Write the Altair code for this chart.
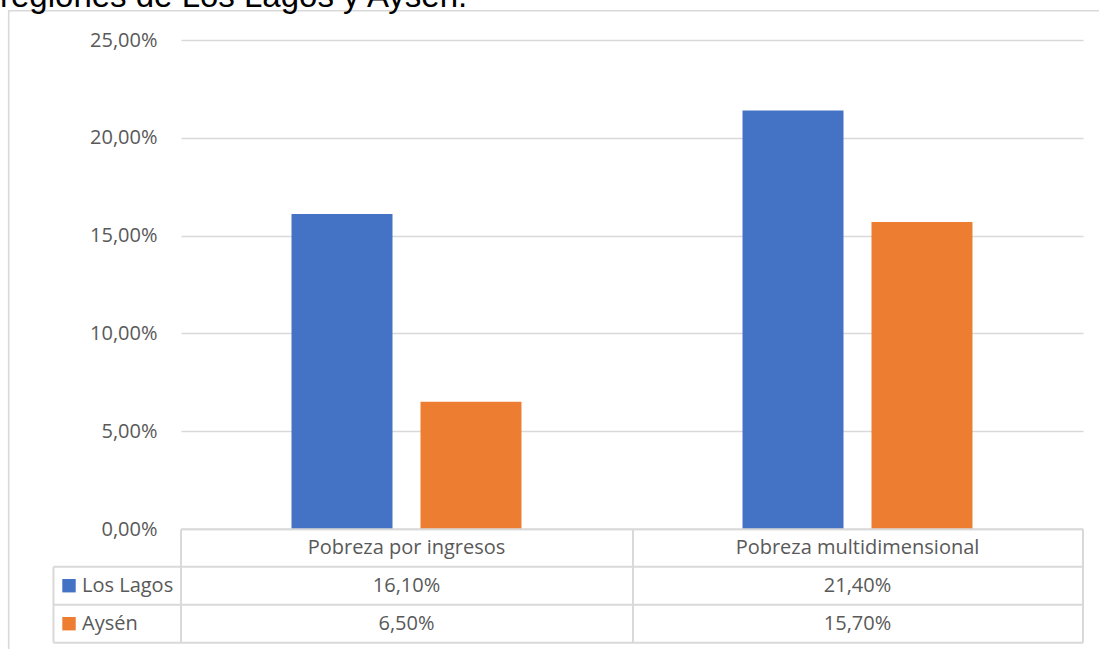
import altair as alt
import pandas as pd

# ---- data ----
categories = ["Pobreza por ingresos", "Pobreza multidimensional"]
series = ["Los Lagos", "Aysén"]
los_lagos = [0.161, 0.214]
aysen = [0.065, 0.157]
colors = ["#4472C4", "#ED7D31"]
y_ticks = [0, 0.05, 0.10, 0.15, 0.20, 0.25]
caption = "regiones de Los Lagos y Aysén."

def fmt(v):
    return f"{v * 100:.2f}%".replace(".", ",")

rows = []
for s, vals in zip(series, [los_lagos, aysen]):
    for c, v in zip(categories, vals):
        rows.append({"category": c, "series": s, "value": v, "label": fmt(v)})
df = pd.DataFrame(rows)
cat_df = pd.DataFrame({"category": categories})
ser_df = pd.DataFrame({"series": series})

FONT = "Open Sans"
GRAY = "#595959"
LINE = "#d9d9d9"

x_scale = alt.Scale(domain=categories, paddingInner=0, paddingOuter=0)
color_scale = alt.Scale(domain=series, range=colors)

bars = alt.Chart(df).mark_bar().encode(
    x=alt.X("category:N", sort=categories, scale=x_scale, axis=None),
    xOffset=alt.XOffset("series:N", sort=series,
                        scale=alt.Scale(domain=series, paddingInner=0.217, paddingOuter=0.857)),
    y=alt.Y("value:Q", scale=alt.Scale(domain=[0, 0.25]),
            axis=alt.Axis(values=y_ticks, title=None, domain=False, ticks=False,
                          grid=True, gridColor=LINE, gridWidth=1.3,
                          labelFont=FONT, labelFontSize=20, labelColor=GRAY,
                          labelPadding=24,
                          labelExpr="replace(format(datum.value, '.2%'), '.', ',')")),
    color=alt.Color("series:N", scale=color_scale, legend=None),
)

def one():
    return alt.Data(values=[{}])

def hline(x1, x2, y, w=2):
    return alt.Chart(one()).mark_rule(color=LINE, strokeWidth=w).encode(
        x=alt.value(x1), x2=alt.value(x2), y=alt.value(y))

def vline(x, y1, y2, w=2):
    return alt.Chart(one()).mark_rule(color=LINE, strokeWidth=w).encode(
        x=alt.value(x), y=alt.value(y1), y2=alt.value(y2))

# table geometry (plot-relative pixels)
top = 489.3
r1 = 526.7
r2 = 564.7
r3 = 602.7
leg_left = -127.5
mid_x = 452
right_x = 902

lines = [
    hline(0, right_x, top),
    hline(leg_left, right_x, r1),
    hline(leg_left, right_x, r2),
    hline(leg_left, right_x, r3),
    vline(0, top, r3),
    vline(mid_x, top, r3),
    vline(right_x, top, r3),
    vline(leg_left, r1, r3),
]

header = alt.Chart(cat_df).mark_text(font=FONT, fontSize=20, color=GRAY, baseline="middle").encode(
    x=alt.X("category:N", sort=categories, scale=x_scale, axis=None),
    y=alt.value((top + r1) / 2),
    text="category:N",
)

row_layers = []
for i, s in enumerate(series):
    yc = [(r1 + r2) / 2, (r2 + r3) / 2][i]
    row_layers.append(
        alt.Chart(df).transform_filter(alt.datum.series == s)
        .mark_text(font=FONT, fontSize=20, color=GRAY, baseline="middle").encode(
            x=alt.X("category:N", sort=categories, scale=x_scale, axis=None),
            y=alt.value(yc),
            text="label:N",
        )
    )
    row_layers.append(
        alt.Chart(ser_df).transform_filter(alt.datum.series == s)
        .mark_square(size=180, opacity=1).encode(
            x=alt.value(-112), y=alt.value(yc),
            color=alt.Color("series:N", scale=color_scale, legend=None),
        )
    )
    row_layers.append(
        alt.Chart(ser_df).transform_filter(alt.datum.series == s)
        .mark_text(font=FONT, fontSize=20, color=GRAY, baseline="middle", align="left").encode(
            x=alt.value(-99), y=alt.value(yc), text="series:N",
        )
    )

frame = alt.Chart(one()).mark_rect(fillOpacity=0, stroke=LINE, strokeWidth=1.6).encode(
    x=alt.value(-172.3), x2=alt.value(940), y=alt.value(-29.3), y2=alt.value(640))

cap = alt.Chart(one()).mark_text(font="Liberation Sans", fontSize=33, color="black",
                                 align="left", baseline="alphabetic").encode(
    x=alt.value(-181), y=alt.value(7 - 40), text=alt.value(caption))

chart = alt.layer(frame, cap, bars, *lines, header, *row_layers).properties(
    width=902, height=489,
    padding={"left": 181, "top": 40, "right": 16, "bottom": 120},
    autosize=alt.AutoSizeParams(type="none"),
    background="white",
).configure_view(stroke=None)

chart.save("out.html", embed_options={"renderer": "svg", "actions": False})
